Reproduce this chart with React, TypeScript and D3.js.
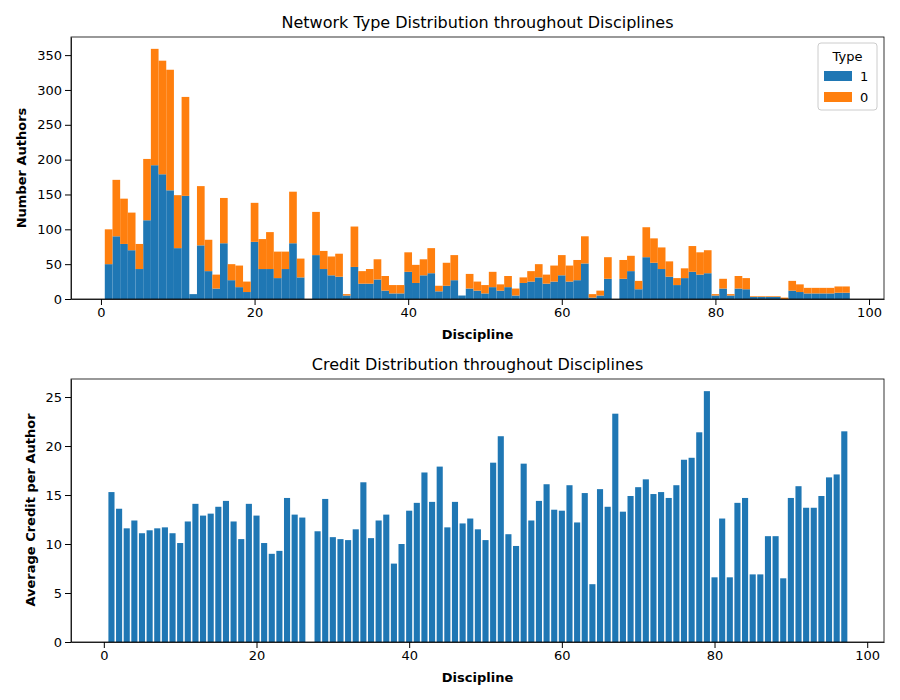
import * as d3 from "d3";
import React, { useEffect, useRef } from "react";

const disciplines = d3.range(1, 98);
const totals = [100,171,144,124,79,201,359,342,329,149,290,7,162,85,35,145,50,48,25,138,86,96,68,68,154,58,0,125,69,61,65,7,104,40,43,57,33,20,20,67,49,57,73,19,52,63,5,36,25,20,39,21,33,15,31,40,50,35,48,63,48,56,90,7,12,60,0,56,62,26,103,87,74,54,30,44,76,67,70,7,29,7,33,30,4,4,4,4,2,26,21,16,16,16,16,18,18];
const type1 = [50,90,79,70,43,113,192,179,156,73,148,7,77,40,15,80,27,17,10,82,43,43,30,43,80,31,0,63,43,34,32,5,46,22,22,28,12,8,8,39,23,34,37,11,19,27,5,15,12,8,17,12,17,5,23,25,31,22,25,34,25,27,51,2,5,29,0,29,40,14,60,52,43,32,20,30,39,35,37,5,15,5,15,14,3,3,3,3,0,12,10,8,8,8,8,9,9];
const credit = [15.3,13.6,11.6,12.4,11.1,11.4,11.6,11.7,11.1,10.1,12.3,14.1,12.9,13.1,13.8,14.4,12.3,10.5,14.1,12.9,10.1,9.0,9.3,14.7,13.0,12.7,0,11.3,14.6,10.7,10.5,10.4,11.5,16.3,10.6,12.4,13.0,8.0,10.0,13.4,14.2,17.3,14.3,17.9,11.7,14.3,12.1,12.6,11.5,10.4,18.3,21.0,11.0,9.8,18.2,12.4,14.4,16.1,13.5,13.4,16.0,12.2,15.2,5.9,15.6,13.8,23.3,13.3,14.9,15.8,16.6,15.1,15.3,14.7,16.0,18.6,18.8,21.4,25.6,6.6,12.6,6.6,14.2,14.7,6.9,6.9,10.8,10.8,6.5,14.7,15.9,13.7,13.7,14.9,16.8,17.1,21.5];
const type0 = totals.map((t, i) => t - type1[i]);

const BLUE = "#1f77b4";
const ORANGE = "#ff7f0e";
const FONT = "DejaVu Sans, sans-serif";

export default function App() {
  const ref = useRef<SVGSVGElement>(null);

  useEffect(() => {
    const svg = d3.select(ref.current);
    svg.selectAll("*").remove();
    svg.attr("font-family", FONT);

    const left = 71, right = 884;

    // Top chart
    const x1 = d3.scaleLinear().domain([-3.9, 101.95]).range([left, right]);
    const y1 = d3.scaleLinear().domain([0, 376]).range([299, 37]);
    const g1 = svg.append("g");
    g1.selectAll("rect.t1").data(disciplines).join("rect")
      .attr("x", (d) => x1(d - 0.5)).attr("width", x1(1) - x1(0))
      .attr("y", (d, i) => y1(type1[i])).attr("height", (d, i) => y1(0) - y1(type1[i]))
      .attr("fill", BLUE);
    g1.selectAll("rect.t0").data(disciplines).join("rect")
      .attr("x", (d) => x1(d - 0.5)).attr("width", x1(1) - x1(0))
      .attr("y", (d, i) => y1(totals[i])).attr("height", (d, i) => y1(type1[i]) - y1(totals[i]))
      .attr("fill", ORANGE);
    g1.append("g").attr("transform", "translate(0,299)")
      .call(d3.axisBottom(x1).tickValues([0, 20, 40, 60, 80, 100]).tickSizeOuter(0));
    g1.append("g").attr("transform", `translate(${left},0)`)
      .call(d3.axisLeft(y1).tickValues(d3.range(0, 351, 50)).tickSizeOuter(0));
    g1.append("rect").attr("x", left).attr("y", 37).attr("width", right - left).attr("height", 262)
      .attr("fill", "none").attr("stroke", "black").attr("stroke-width", 0.8);
    g1.append("text").attr("x", (left + right) / 2).attr("y", 28).attr("text-anchor", "middle")
      .attr("font-size", 16).text("Network Type Distribution throughout Disciplines");
    g1.append("text").attr("x", (left + right) / 2).attr("y", 339).attr("text-anchor", "middle")
      .attr("font-size", 13).attr("font-weight", "bold").text("Discipline");
    g1.append("text").attr("transform", `translate(26,168) rotate(-90)`).attr("text-anchor", "middle")
      .attr("font-size", 13).attr("font-weight", "bold").text("Number Authors");

    // Legend
    const lg = g1.append("g").attr("transform", "translate(818,43)");
    lg.append("rect").attr("width", 59).attr("height", 67).attr("rx", 3)
      .attr("fill", "white").attr("stroke", "#ccc");
    lg.append("text").attr("x", 29.5).attr("y", 18).attr("text-anchor", "middle").attr("font-size", 13).text("Type");
    [["1", BLUE], ["0", ORANGE]].forEach(([lab, c], i) => {
      lg.append("rect").attr("x", 6).attr("y", 28 + i * 21).attr("width", 28).attr("height", 10).attr("fill", c);
      lg.append("text").attr("x", 42).attr("y", 38 + i * 21).attr("font-size", 13).text(lab);
    });

    // Bottom chart
    const x2 = d3.scaleLinear().domain([-4.3, 102.2]).range([left, right]);
    const y2 = d3.scaleLinear().domain([0, 26.84]).range([642, 379]);
    const g2 = svg.append("g");
    g2.selectAll("rect.c").data(disciplines).join("rect")
      .attr("x", (d) => x2(d - 0.4)).attr("width", x2(0.8) - x2(0))
      .attr("y", (d, i) => y2(credit[i])).attr("height", (d, i) => y2(0) - y2(credit[i]))
      .attr("fill", BLUE);
    g2.append("g").attr("transform", "translate(0,642)")
      .call(d3.axisBottom(x2).tickValues([0, 20, 40, 60, 80, 100]).tickSizeOuter(0));
    g2.append("g").attr("transform", `translate(${left},0)`)
      .call(d3.axisLeft(y2).tickValues([0, 5, 10, 15, 20, 25]).tickSizeOuter(0));
    g2.append("rect").attr("x", left).attr("y", 379).attr("width", right - left).attr("height", 263)
      .attr("fill", "none").attr("stroke", "black").attr("stroke-width", 0.8);
    g2.append("text").attr("x", (left + right) / 2).attr("y", 370).attr("text-anchor", "middle")
      .attr("font-size", 16).text("Credit Distribution throughout Disciplines");
    g2.append("text").attr("x", (left + right) / 2).attr("y", 682).attr("text-anchor", "middle")
      .attr("font-size", 13).attr("font-weight", "bold").text("Discipline");
    g2.append("text").attr("transform", `translate(35,510) rotate(-90)`).attr("text-anchor", "middle")
      .attr("font-size", 13).attr("font-weight", "bold").text("Average Credit per Author");

    svg.selectAll(".tick text").attr("font-size", 13).attr("font-family", FONT);
    svg.selectAll(".domain").attr("stroke-width", 0.8);
  }, []);

  return (
    <svg ref={ref} width={900} height={700}
      style={{ position: "absolute", left: 0, top: 0, background: "white" }} />
  );
}
